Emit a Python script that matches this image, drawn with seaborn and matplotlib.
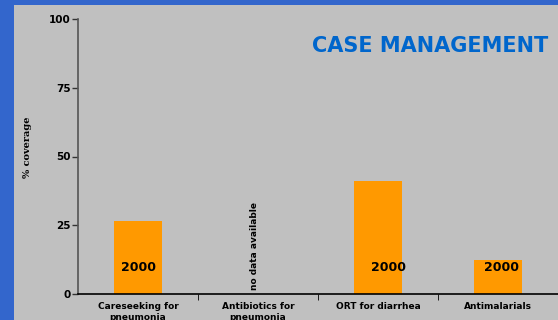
import matplotlib
matplotlib.use("Agg")
import matplotlib.pyplot as plt
import seaborn as sns
import pandas as pd
from matplotlib.patches import Rectangle

categories = ["Careseeking for\npneumonia", "Antibiotics for\npneumonia",
              "ORT for diarrhea", "Antimalarials"]
coverage = [26.5, 0, 41, 12.4]
bar_labels = ["2000", "", "2000", "2000"]

df = pd.DataFrame({"category": categories, "coverage": coverage})

sns.set_style("ticks")
plt.rcParams["font.family"] = ["DejaVu Sans"]

fig = plt.figure(figsize=(5.58, 3.2), dpi=100)
fig.patch.set_facecolor("#3366cc")
# grey panel behind the chart, blue strip shows at top and left
fig.patches.append(Rectangle((14 / 558, 0), 1 - 14 / 558, 315 / 320,
                             transform=fig.transFigure, facecolor="#c0c0c0",
                             edgecolor="none", zorder=-10))
ax = fig.add_axes([78 / 558, 26 / 320, 1 - 78 / 558, 275 / 320])
ax.set_zorder(5)
ax.set_facecolor("none")

sns.barplot(data=df, x="category", y="coverage", color="#ff9900",
            saturation=1, width=0.4, edgecolor="none", linewidth=0, ax=ax)

ax.set_xlim(-0.5, 3.5)
ax.set_ylim(0, 100)
ax.set_yticks([0, 25, 50, 75, 100])
ax.set_yticklabels(["0", "25", "50", "75", "100"], fontsize=7.5,
                   fontweight="bold", color="black")
ax.set_xticks(range(4))
ax.set_xticklabels(categories, fontsize=6.5, fontweight="bold", va="top",
                   color="black", linespacing=1.35)
ax.tick_params(axis="x", length=0, pad=5.5)
ax.set_xticks([0.5, 1.5, 2.5, 3.5], minor=True)
ax.tick_params(axis="x", which="minor", length=4, color="black")
ax.tick_params(axis="y", length=4, width=1, color="#333333", pad=1)

ax.set_xlabel("")
ax.set_ylabel("% coverage", fontsize=7, fontweight="bold", family="serif",
              color="black")
ax.yaxis.set_label_coords(-0.095, 0.535)

for s in ["top", "right"]:
    ax.spines[s].set_visible(False)
ax.spines["left"].set_color("#555555")
ax.spines["left"].set_linewidth(1.2)
ax.spines["bottom"].set_color("black")
ax.spines["bottom"].set_linewidth(1.2)

# year labels sit inside the bars, slightly right of centre on some
label_shift = [0.0, 0.0, 0.09, 0.03]
for i, lab in enumerate(bar_labels):
    if lab:
        ax.text(i + label_shift[i], 9.5, lab, ha="center", va="center",
                fontsize=9, fontweight="bold", color="black")

ax.text(1 - 0.03, 1.5, "no data available", rotation=90, ha="center", va="bottom",
        fontsize=6.5, fontweight="bold", color="black")

fig.text(0.982, 0.855, "CASE MANAGEMENT", ha="right", va="center", fontsize=15,
         fontweight="bold", color="#0066cc")

fig.savefig("out.png", dpi=100, facecolor=fig.get_facecolor())
